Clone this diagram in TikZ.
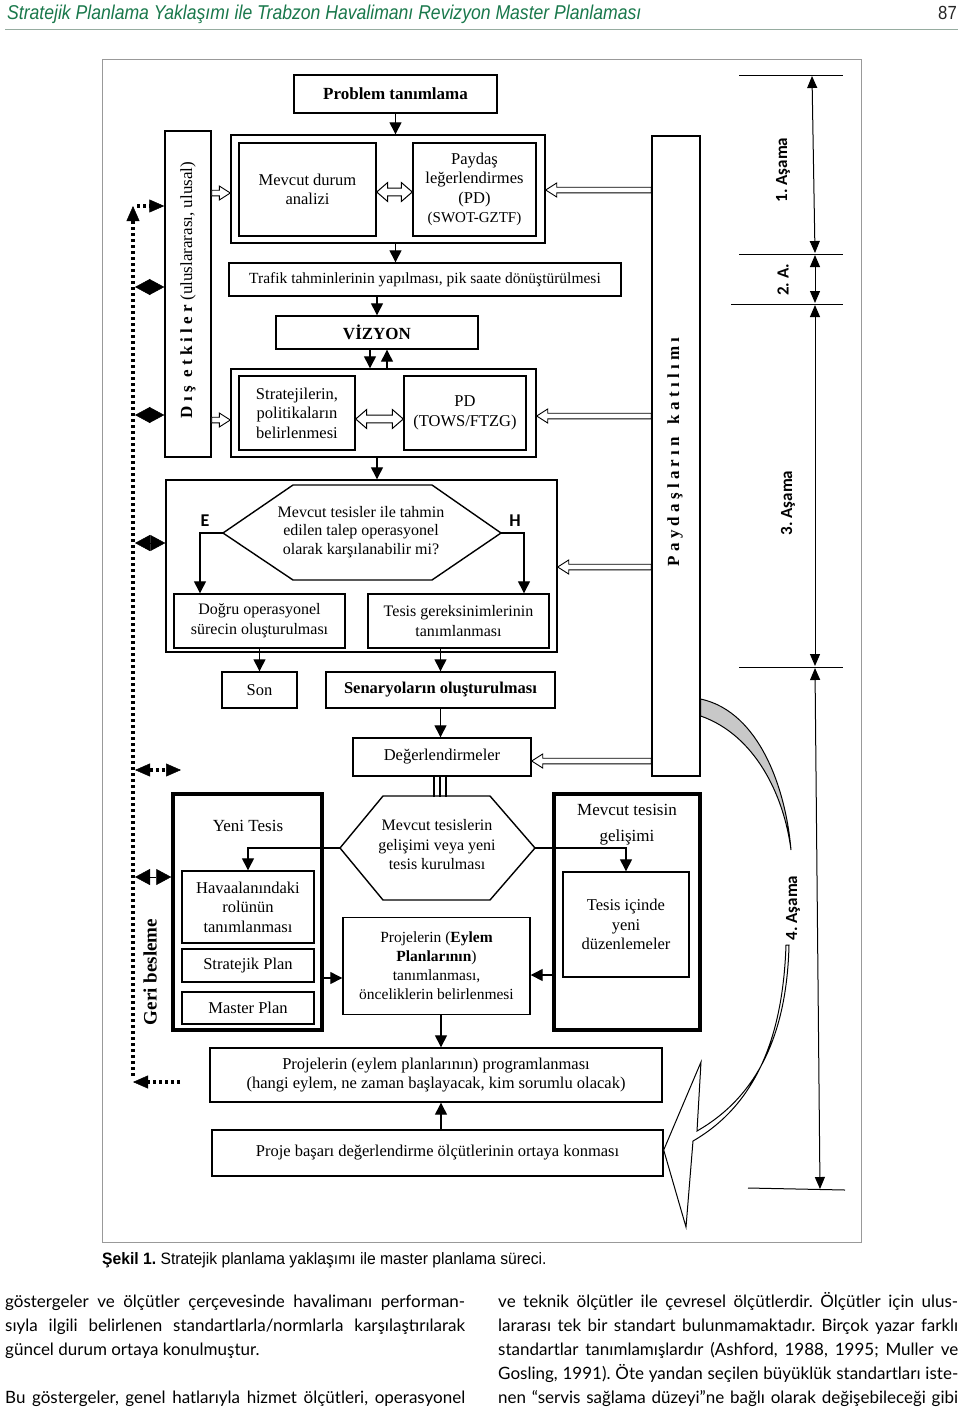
\documentclass[tikz,border=0pt]{standalone}
\usepackage{fontspec}
\setmainfont{Liberation Serif}
\newfontfamily\hdrfont[FakeStretch=0.88]{Liberation Sans}
\newfontfamily\capfont[FakeStretch=0.95]{Liberation Sans}
\newfontfamily\lblfont{Carlito}
\newfontfamily\bodyfont{Lato}
\usetikzlibrary{arrows.meta,calc}
\definecolor{hdrgreen}{RGB}{25,120,75}
\definecolor{rulegray}{RGB}{150,172,160}
\definecolor{bandgray}{RGB}{200,200,200}
\newcommand\fs[2]{\fontsize{#1}{#2}\selectfont}
\frenchspacing
\begin{document}
\begin{tikzpicture}[x=1pt,y=-1pt,
  box/.style={rectangle,draw,line width=1.4pt,align=center,inner sep=0pt,font={\fs{16.5}{19.5}}},
  heavybox/.style={box,line width=3.5pt},
  arr/.style={line width=1.3pt,-{Triangle[length=12pt,width=12pt]}},
  fb/.style={line width=4pt,dash pattern=on 3pt off 3pt},
  fbtip/.tip={Triangle[length=15pt,width=13pt,line width=0.5pt]},
  diam/.style={line width=0.5pt,{Triangle[length=15pt,width=16pt]}-{Triangle[length=15pt,width=16pt]}},
  dimline/.style={line width=1pt,{Triangle[length=12pt,width=10pt]}-{Triangle[length=12pt,width=10pt]}},
  tick/.style={line width=1pt},
  stage/.style={rotate=90,font={\lblfont\bfseries\fs{17}{20}}},
  hollow/.style={draw,fill=white,line width=0.9pt,
    to path={let \p1=(\tikztostart),\p2=(\tikztotarget),\n1={ifthenelse(\x2>\x1,1,-1)} in
      (\x1,\y1+2.8pt) -- (\x2-\n1*11pt,\y1+2.8pt) -- (\x2-\n1*11pt,\y1+7pt) -- (\x2,\y1)
      -- (\x2-\n1*11pt,\y1-7pt) -- (\x2-\n1*11pt,\y1-2.8pt) -- (\x1,\y1-2.8pt) -- cycle}},
  dhollow/.style={draw,fill=white,line width=1pt,
    to path={let \p1=(\tikztostart),\p2=(\tikztotarget),\n1={ifthenelse(\x2>\x1,1,-1)} in
      (\x1,\y1) -- (\x1+\n1*11pt,\y1+9.5pt) -- (\x1+\n1*11pt,\y1+3.8pt) -- (\x2-\n1*11pt,\y1+3.8pt)
      -- (\x2-\n1*11pt,\y1+9.5pt) -- (\x2,\y1) -- (\x2-\n1*11pt,\y1-9.5pt) -- (\x2-\n1*11pt,\y1-3.8pt)
      -- (\x1+\n1*11pt,\y1-3.8pt) -- (\x1+\n1*11pt,\y1-9.5pt) -- cycle}}]
\useasboundingbox (0,0) rectangle (960,1409);

\node[anchor=base west,inner sep=0pt,text=hdrgreen,font={\hdrfont\itshape\fs{20}{22}}] (hdr) at (7,19) {Stratejik Planlama Yaklaşımı ile Trabzon Havalimanı Revizyon Master Planlaması};
\node[anchor=base east,inner sep=0pt,text=black!85,font={\hdrfont\fs{19}{22}}] (pg) at (957,19) {87};
\draw[rulegray,line width=1pt] (5,29) -- (958,29);
\draw[black!40,line width=1pt] (102,59) rectangle (861,1242);

\node[box,font={\bfseries\fs{17}{20}},minimum width=203pt,minimum height=38pt] (prob) at (395.5,94) {Problem tanımlama};
\node[box,minimum width=314pt,minimum height=108pt] (grp1) at (388,189) {};
\node[box,minimum width=137pt,minimum height=93pt] (mevcut) at (307.5,189.5) {Mevcut durum\\analizi};
\node[box,minimum width=123pt,minimum height=93pt] (paydas) at (474.5,189.5) {Paydaş\\leğerlendirmes\\(PD)\\{\fs{15}{18}(SWOT-GZTF)}};
\node[box,font={\fs{15.5}{18}},minimum width=392pt,minimum height=33pt] (trafik) at (425,279.5) {Trafik tahminlerinin yapılması, pik saate dönüştürülmesi};
\node[box,font={\bfseries\fs{17}{20}},minimum width=202pt,minimum height=33pt] (vizyon) at (377,332.5) {VİZYON};
\node[box,minimum width=305pt,minimum height=88pt] (grp2) at (383.5,413) {};
\node[box,minimum width=116pt,minimum height=74pt] (strat) at (297,413) {Stratejilerin,\\politikaların\\belirlenmesi};
\node[box,minimum width=122pt,minimum height=74pt] (pd2) at (465,413) {PD\\(TOWS/FTZG)};
\node[box,minimum width=391pt,minimum height=172pt] (grp3) at (361.5,566) {};
\draw[line width=1.4pt] (223,533) coordinate (h1w) -- (293,485) -- (432,485) -- (501,533) coordinate (h1e) -- (432,580) -- (293,580) -- cycle;
\node[align=center,font={\fs{16}{18.5}}] (h1) at (361,532) {Mevcut tesisler ile tahmin\\edilen talep operasyonel\\olarak karşılanabilir mi?};
\node[font={\lblfont\bfseries\fs{18}{20}}] (eve) at (205,521) {E};
\node[font={\lblfont\bfseries\fs{18}{20}}] (hay) at (515,521) {H};
\node[box,font={\fs{16}{20}},minimum width=171pt,minimum height=54pt] (dogru) at (259.5,621) {Doğru operasyonel\\sürecin oluşturulması};
\node[box,font={\fs{16}{20}},minimum width=181pt,minimum height=54pt] (tesisg) at (458.5,621) {Tesis gereksinimlerinin\\tanımlanması};
\node[box,minimum width=75pt,minimum height=36pt] (son) at (259.5,690) {Son};
\node[box,font={\bfseries\fs{16.5}{20}},minimum width=229pt,minimum height=36pt] (senaryo) at (440.5,690) {Senaryoların oluşturulması};
\node[box,minimum width=178pt,minimum height=38pt] (degerl) at (442,757) {Değerlendirmeler};
\draw[line width=1.4pt] (340,848) coordinate (h2w) -- (383,796) -- (490,796) -- (535,848) coordinate (h2e) -- (490,900) -- (383,900) -- cycle;
\node[align=center,font={\fs{16}{19.5}}] (h2) at (437,845) {Mevcut tesislerin\\gelişimi veya yeni\\tesis kurulması};
\node[heavybox,minimum width=149pt,minimum height=236pt] (yeni) at (247.5,912) {};
\node[font={\fs{17}{20}}] (yenit) at (248,826) {Yeni Tesis};
\node[box,minimum width=132pt,minimum height=72pt] (havaal) at (248,907) {Havaalanındaki\\rolünün\\tanımlanması};
\node[box,minimum width=132pt,minimum height=33pt] (stratp) at (248,965.5) {Stratejik Plan};
\node[box,minimum width=132pt,minimum height=32pt] (master) at (248,1008) {Master Plan};
\node[box,font={\fs{15.5}{19}},minimum width=187pt,minimum height=97pt] (proj) at (436.5,966) {Projelerin (\textbf{Eylem}\\\textbf{Planlarının})\\tanımlanması,\\önceliklerin belirlenmesi};
\node[heavybox,minimum width=146pt,minimum height=236pt] (mevg) at (627,912) {};
\node[align=center,font={\fs{17}{26}}] (mevgt) at (627,825) {Mevcut tesisin\\gelişimi};
\node[box,minimum width=126pt,minimum height=105pt] (tesisic) at (626,924.5) {Tesis içinde\\yeni\\düzenlemeler};
\node[box,minimum width=452pt,minimum height=54pt] (progr) at (436,1075) {Projelerin (eylem planlarının) programlanması\\(hangi eylem, ne zaman başlayacak, kim sorumlu olacak)};
\node[box,minimum width=451pt,minimum height=46pt] (basari) at (437.5,1153) {Proje başarı değerlendirme ölçütlerinin ortaya konması};

\node[box,minimum width=46pt,minimum height=326pt] (dis) at (188,294) {};
\node[rotate=90,font={\fs{17}{20}}] (dist) at (188,290) {\textbf{D ı ş \ e t k i l e r} (uluslararası, ulusal)};
\node[box,minimum width=48pt,minimum height=640pt] (payd) at (676,456) {};
\node[rotate=90,font={\bfseries\fs{17}{20}}] (paydt) at (675,452) {P a y d a ş l a r ı n \ \ k a t ı l ı m ı};

\draw[arr] (prob.south) -- (prob.south |- grp1.north);
\draw[arr] (prob.south |- grp1.south) -- (prob.south |- trafik.north);
\draw[arr] (vizyon.north |- trafik.south) -- (vizyon.north);
\draw[arr] ([xshift=-7pt]vizyon.south) -- ([xshift=-7pt]vizyon.south |- grp2.north);
\draw[arr] ([xshift=10pt]vizyon.south |- grp2.north) -- ([xshift=10pt]vizyon.south);
\draw[arr] (vizyon.south |- grp2.south) -- (vizyon.south |- grp3.north);
\draw[arr] (h1w) -| (dogru.north -| 200,0);
\draw[arr] (h1e) -| (tesisg.north -| 524,0);
\draw[arr] (son.north |- dogru.south) -- (son.north);
\draw[arr] (senaryo.north |- tesisg.south) -- (senaryo.north);
\draw[arr] (senaryo.south) -- (senaryo.south |- degerl.north);
\foreach \dx in {-8,-2,4}
  \draw[line width=1.1pt] ([xshift=\dx pt]degerl.south) -- ++(0,20);
\draw[arr] (h2w) -| (havaal.north);
\draw[arr] (h2e) -| (tesisic.north);
\draw[arr] (yeni.east |- 0,978) -- (proj.west |- 0,978);
\draw[arr] (mevg.west |- 0,975) -- (proj.east |- 0,975);
\draw[arr] (proj.south -| 441,0) -- (progr.north -| 441,0);
\draw[arr] (basari.north -| 441,0) -- (progr.south -| 441,0);

\draw[hollow] (dis.east |- 0,193) to (grp1.west |- 0,193);
\draw[hollow] (dis.east |- 0,420) to (grp2.west |- 0,420);
\draw[hollow] (payd.west |- 0,190) to (grp1.east |- 0,190);
\draw[hollow] (payd.west |- 0,416) to (grp2.east |- 0,416);
\draw[hollow] (payd.west |- 0,567) to (grp3.east |- 0,567);
\draw[hollow] (payd.west |- 0,761) to (degerl.east |- 0,761);
\draw[dhollow] (mevcut.east |- 0,192) to (paydas.west |- 0,192);
\draw[dhollow] (strat.east |- 0,419) to (pd2.west |- 0,419);

\coordinate (fbtop) at (133,206);
\coordinate (fbbot) at (133,1076);
\coordinate (fbl) at (133,1082);
\coordinate (fbs) at (180,1082);
\coordinate (fbr) at (137,206);
\draw[fb,-{fbtip}] (fbbot) -- (fbtop);
\draw[fb,-{fbtip}] (fbr) -- (dis.west |- fbr);
\draw[fb,-{fbtip}] (fbs) -- (fbl);
\coordinate (mid1) at (135,770);
\coordinate (mid2) at (181,770);
\draw[fb,{fbtip}-{fbtip}] (mid1) -- (mid2);
\coordinate (d1) at (135,287);
\coordinate (d2) at (135,415);
\coordinate (d3) at (135,543);
\coordinate (d4) at (135,877);
\draw[diam] (d1) -- (dis.west |- d1);
\draw[diam] (d2) -- (dis.west |- d2);
\draw[diam] (d3) -- (grp3.west |- d3);
\draw[diam] (d4) -- (yeni.west |- d4);
\node[rotate=90,font={\bfseries\fs{19}{22}}] (geri) at (150,972) {Geri besleme};

\draw[tick] (739,75) -- (843,75);
\draw[tick] (739,254) -- (843,254);
\draw[tick] (731,304) -- (843,304);
\draw[tick] (739,667) -- (843,667);
\draw[tick] (748,1188) -- (845,1190);
\coordinate (t0) at (812,76);
\coordinate (t1) at (815,253);
\coordinate (t2) at (815,255);
\coordinate (t3) at (815,303);
\coordinate (t4) at (815,305);
\coordinate (t5) at (815,666);
\coordinate (t6) at (815,668);
\coordinate (t7) at (820,1189);
\draw[dimline] (t0) -- (t1);
\draw[dimline] (t2) -- (t3);
\draw[dimline] (t4) -- (t5);
\draw[dimline] (t6) -- (t7);
\node[stage] (a1) at (783,170) {1. Aşama};
\node[stage] (a2) at (783,280) {2. A.};
\node[stage] (a3) at (788,503) {3. Aşama};
\node[stage] (a4) at (793,908) {4. Aşama};

\draw[line width=1pt,fill=bandgray] (payd.east |- 0,699) .. controls (760,712) and (786,790) .. (791,850)
  .. controls (784,795) and (755,735) .. (payd.east |- 0,716) -- cycle;
\draw[line width=1pt,fill=white] (789,945) .. controls (787,1030) and (760,1095) .. (697,1131)
  -- (701,1062) -- (basari.east |- 0,1150) -- (686,1227) -- (693,1141)
  .. controls (757,1104) and (783,1035) .. (786,945) -- cycle;

\node[anchor=base west,inner sep=0pt,font={\capfont\fs{16.5}{18}}] (cap) at (102,1264) {\textbf{Şekil 1.} Stratejik planlama yaklaşımı ile master planlama süreci.};

\node[anchor=base west,inner sep=0pt,font={\bodyfont\fs{17}{24}}] (l1) at (5,1307) {\makebox[460pt][s]{göstergeler ve ölçütler çerçevesinde havalimanı performan-}};
\node[anchor=base west,inner sep=0pt,font={\bodyfont\fs{17}{24}}] (l2) at (5,1331) {\makebox[460pt][s]{sıyla ilgili belirlenen standartlarla/normlarla karşılaştırılarak}};
\node[anchor=base west,inner sep=0pt,font={\bodyfont\fs{17}{24}}] (l3) at (5,1355) {güncel durum ortaya konulmuştur.};
\node[anchor=base west,inner sep=0pt,font={\bodyfont\fs{17}{24}}] (l4) at (5,1403) {\makebox[460pt][s]{Bu göstergeler, genel hatlarıyla hizmet ölçütleri, operasyonel}};
\node[anchor=base west,inner sep=0pt,font={\bodyfont\fs{17}{24}}] (r1) at (498,1307) {\makebox[460pt][s]{ve teknik ölçütler ile çevresel ölçütlerdir. Ölçütler için ulus-}};
\node[anchor=base west,inner sep=0pt,font={\bodyfont\fs{17}{24}}] (r2) at (498,1331) {\makebox[460pt][s]{lararası tek bir standart bulunmamaktadır. Birçok yazar farklı}};
\node[anchor=base west,inner sep=0pt,font={\bodyfont\fs{17}{24}}] (r3) at (498,1355) {\makebox[460pt][s]{standartlar tanımlamışlardır (Ashford, 1988, 1995; Muller ve}};
\node[anchor=base west,inner sep=0pt,font={\bodyfont\fs{17}{24}}] (r4) at (498,1379) {\makebox[460pt][s]{Gosling, 1991). Öte yandan seçilen büyüklük standartları iste-}};
\node[anchor=base west,inner sep=0pt,font={\bodyfont\fs{17}{24}}] (r5) at (498,1403) {\makebox[460pt][s]{nen “servis sağlama düzeyi”ne bağlı olarak değişebileceği gibi}};
\end{tikzpicture}
\end{document}
